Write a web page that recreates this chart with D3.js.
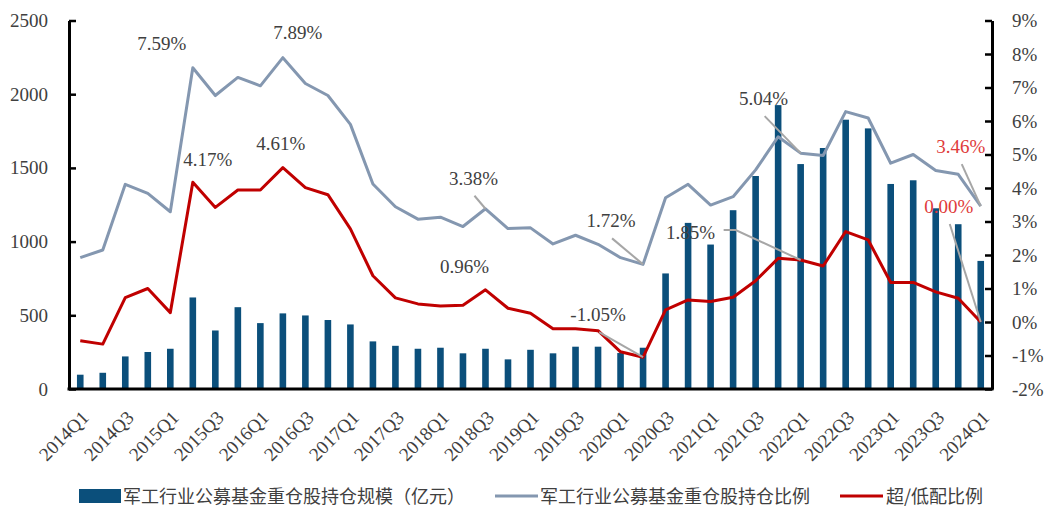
<!DOCTYPE html>
<html lang="zh">
<head>
<meta charset="UTF-8">
<title>军工行业公募基金重仓股持仓</title>
<script src="https://d3js.org/d3.v7.min.js"></script>
<style>
  body { margin: 0; background: #fff; }
  svg text { fill: #404040; }
  .tick text { font-family: "Liberation Serif", "DejaVu Serif", serif; font-size: 19px; }
  .ann text { font-family: "Liberation Serif", "DejaVu Serif", serif; font-size: 19px; }
  .legend text { font-family: "Noto Sans CJK SC", sans-serif; font-size: 18px; }
</style>
</head>
<body>
<svg width="1046" height="508"></svg>
<script>
// quarters 2014Q1 .. 2024Q1
const quarters = []
for (let y = 2014; y <= 2024; y++) {
    for (let q = 1; q <= 4; q++) {
        if (y === 2024 && q > 1) break
        quarters.push(y + "Q" + q)
    }
}

// 持仓规模（亿元）
const holdings = [97, 110, 221, 251, 273, 621, 397, 555, 447, 513, 499, 468, 438,
    323, 293, 273, 280, 242, 273, 201, 266, 242, 287, 287, 244, 280, 784,
    1127, 980, 1213, 1445, 1926, 1526, 1635, 1827, 1768, 1391, 1416, 1226, 1118, 869]

// 持仓比例 (%)
const ratio = [1.92, 2.15, 4.11, 3.84, 3.29, 7.59, 6.76, 7.30, 7.05, 7.89, 7.12, 6.76, 5.90,
    4.12, 3.44, 3.07, 3.13, 2.85, 3.38, 2.79, 2.81, 2.33, 2.59, 2.32, 1.92, 1.72, 3.71,
    4.11, 3.49, 3.74, 4.54, 5.53, 5.04, 4.97, 6.28, 6.09, 4.74, 5.00, 4.52, 4.41, 3.46]

// 超/低配比例 (%)
const overweight = [-0.56, -0.66, 0.73, 1.00, 0.28, 4.17, 3.42, 3.94, 3.94, 4.61, 4.01, 3.80, 2.78,
    1.38, 0.72, 0.54, 0.48, 0.50, 0.96, 0.41, 0.26, -0.20, -0.20, -0.26, -0.89, -1.05, 0.36,
    0.66, 0.61, 0.74, 1.23, 1.90, 1.85, 1.67, 2.70, 2.45, 1.18, 1.18, 0.90, 0.71, 0.00]

const leftTicks = [0, 500, 1000, 1500, 2000, 2500]
const rightTicks = d3.range(-2, 10)
const xLabels = quarters.filter(q => q.endsWith("Q1") || q.endsWith("Q3"))

// annotated points: series, quarter, label offset from the point, leader
const notes = [
    {s: "ratio", q: "2015Q2", dx: -31, dy: -18, color: "#404040", lead: false},
    {s: "ratio", q: "2016Q2", dx: 15, dy: -19, color: "#404040", lead: false},
    {s: "over", q: "2015Q2", dx: 15, dy: -16, color: "#404040", lead: false},
    {s: "over", q: "2016Q2", dx: -2, dy: -18, color: "#404040", lead: false},
    {s: "ratio", q: "2018Q3", dx: -12, dy: -24, color: "#404040", lead: true},
    {s: "over", q: "2018Q3", dx: -21, dy: -17, color: "#404040", lead: false},
    {s: "ratio", q: "2020Q2", dx: -32, dy: -37, color: "#404040", lead: true},
    {s: "over", q: "2020Q2", dx: -45, dy: -36, color: "#404040", lead: true},
    {s: "ratio", q: "2022Q1", dx: -37, dy: -48, color: "#404040", lead: true},
    {s: "over", q: "2022Q1", dx: -110, dy: -21, color: "#404040", lead: "elbow"},
    {s: "ratio", q: "2024Q1", dx: -20, dy: -53, color: "#e03a3a", lead: true},
    {s: "over", q: "2024Q1", dx: -32, dy: -109, color: "#e03a3a", lead: true}
]

const svg = d3.select("svg")
const plotL = 69, plotR = 992, plotT = 20.5, plotB = 389

const x = d3.scaleBand().domain(quarters).range([plotL, plotR])
const yL = d3.scaleLinear().domain([0, 2500]).range([plotB, plotT])
const yR = d3.scaleLinear().domain([-2, 9]).range([plotB, plotT])
const cx = q => x(q) + x.bandwidth() / 2

// bars
svg.append("g")
    .selectAll("rect")
    .data(quarters)
    .join("rect")
    .attr("x", q => cx(q) - 3.3)
    .attr("width", 6.6)
    .attr("y", (q, i) => yL(holdings[i]))
    .attr("height", (q, i) => plotB - yL(holdings[i]))
    .attr("fill", "#0b4f7b")

// lines
const line = d3.line().x((d, i) => cx(quarters[i])).y(d => yR(d))
svg.append("path").datum(ratio).attr("d", line)
    .attr("fill", "none").attr("stroke", "#8497b0").attr("stroke-width", 3)
    .attr("stroke-linejoin", "round")
svg.append("path").datum(overweight).attr("d", line)
    .attr("fill", "none").attr("stroke", "#c00000").attr("stroke-width", 3)
    .attr("stroke-linejoin", "round")

// axes
const axL = svg.append("g").attr("transform", `translate(${plotL},0)`)
    .call(d3.axisLeft(yL).tickValues(leftTicks).tickFormat(d3.format("d"))
        .tickSizeInner(-7).tickSizeOuter(0).tickPadding(21))
const axR = svg.append("g").attr("transform", `translate(${plotR},0)`)
    .call(d3.axisRight(yR).tickValues(rightTicks).tickSizeInner(-7).tickSizeOuter(0).tickPadding(20)
        .tickFormat(d => d + "%"))
const axB = svg.append("g").attr("transform", `translate(0,${plotB})`)
    .call(d3.axisBottom(x).tickValues(xLabels).tickSize(0).tickPadding(0))
axB.selectAll(".tick text")
    .attr("text-anchor", "end")
    .attr("transform", "translate(5,25) rotate(-45)")
    .attr("dy", "0.35em")
for (const ax of [axL, axR, axB]) {
    ax.select(".domain").attr("stroke", "#000").attr("stroke-width", 3)
    ax.selectAll(".tick line").attr("stroke", "#000").attr("stroke-width", 2.5)
}
axB.select(".domain").attr("d", `M${plotL - 1.5},0H${plotR + 1.5}`)

// annotations
const ann = svg.append("g").attr("class", "ann")
for (const n of notes) {
    const i = quarters.indexOf(n.q)
    const v = n.s === "ratio" ? ratio[i] : overweight[i]
    const px = cx(n.q), py = yR(v)
    const tx = px + n.dx, ty = py + n.dy
    if (n.lead === true) {
        ann.append("line")
            .attr("x1", tx + 1).attr("y1", ty + 11)
            .attr("x2", px).attr("y2", py)
            .attr("stroke", "#a6a6a6").attr("stroke-width", 2)
    } else if (n.lead === "elbow") {
        ann.append("polyline")
            .attr("points", `${tx + 33},${ty - 9} ${tx + 45},${ty - 9} ${px},${py}`)
            .attr("fill", "none").attr("stroke", "#a6a6a6").attr("stroke-width", 2)
    }
    ann.append("text")
        .attr("x", tx).attr("y", ty)
        .attr("text-anchor", "middle")
        .style("fill", n.color)
        .text(v.toFixed(2) + "%")
}

// legend
const legend = svg.append("g").attr("class", "legend")
legend.append("rect").attr("x", 79).attr("y", 489).attr("width", 42).attr("height", 14).attr("fill", "#0b4f7b")
legend.append("text").attr("x", 123).attr("y", 503).text("军工行业公募基金重仓股持仓规模（亿元）")
legend.append("line").attr("x1", 495).attr("x2", 538).attr("y1", 496).attr("y2", 496)
    .attr("stroke", "#8497b0").attr("stroke-width", 3)
legend.append("text").attr("x", 540).attr("y", 503).text("军工行业公募基金重仓股持仓比例")
legend.append("line").attr("x1", 840).attr("x2", 883).attr("y1", 496).attr("y2", 496)
    .attr("stroke", "#c00000").attr("stroke-width", 3)
legend.append("text").attr("x", 886).attr("y", 503).text("超/低配比例")
</script>
</body>
</html>
